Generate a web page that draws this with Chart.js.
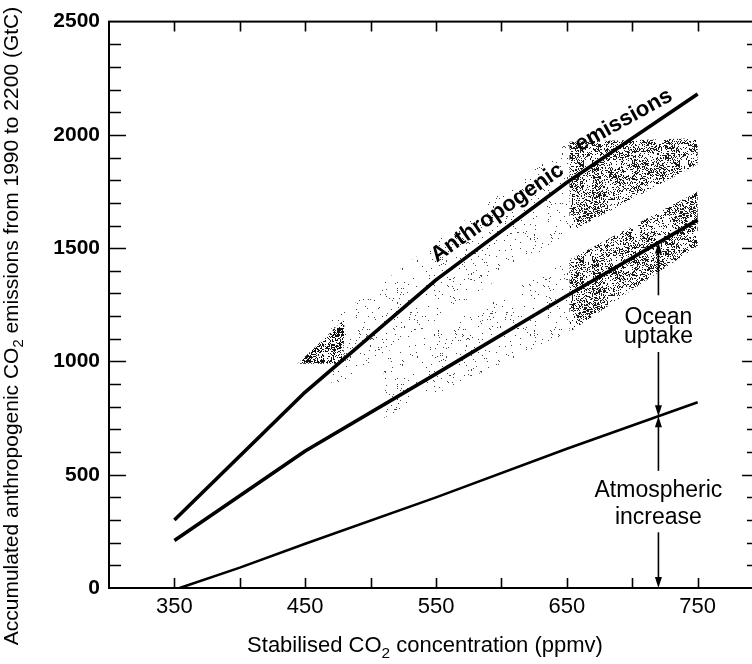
<!DOCTYPE html>
<html>
<head>
<meta charset="utf-8">
<script src="https://cdn.jsdelivr.net/npm/chart.js@4.4.1/dist/chart.umd.min.js"></script>
<style>
  html, body { margin: 0; background: #fff; }
  #wrap { width: 752px; height: 664px; position: relative; }
</style>
</head>
<body>
<div id="wrap"><canvas id="chart"></canvas></div>
<script>
// stabilisation levels (ppmv) and accumulated emissions 1990-2200 (GtC)
const co2Levels = [350, 450, 550, 650, 750];
const emissionsTotal = [300, 865, 1360, 1790, 2180];     // anthropogenic emissions
const atmosPlusOcean = [210, 605, 945, 1290, 1625];      // boundary between ocean uptake and the rest
const atmosX = [354, 400, 450, 550, 650, 750];
const atmosIncrease = [0, 90, 195, 400, 615, 820];      // atmospheric increase

// stippled uncertainty ranges (polygons, data units)
const topBandX = [652, 750, 750, 652];
const topBandY = [1970, 1985, 1870, 1570];
const midBandX = [652, 750, 750, 652];
const midBandY = [1450, 1750, 1510, 1130];
const wedgeX = [444, 480, 479];
const wedgeY = [990, 1186, 990];
const lightTopX = [470, 652, 652, 470];
const lightTopY = [1180, 1970, 1570, 880];
const lightMidX = [510, 652, 652, 510];
const lightMidY = [1010, 1450, 1130, 750];

// axes
const xLabels = [350, 450, 550, 650, 750];
const yLabels = [0, 500, 1000, 1500, 2000, 2500];
const xMarks = [350, 400, 450, 500, 550, 600, 650, 700, 750];
const yMarks = [100, 200, 300, 400, 500, 600, 700, 800, 900, 1000, 1100, 1200,
                1300, 1400, 1500, 1600, 1700, 1800, 1900, 2000, 2100, 2200, 2300, 2400];

const FONT = "'Liberation Sans', Arial, Helvetica, sans-serif";

function pts(xs, ys){ return xs.map((x, i) => ({ x, y: ys[i] })); }
function shape(xs, ys){ const p = pts(xs, ys); p.push({ ...p[0] }); return p; }
function lineAt(xs, ys, v){
  for (let i = 1; i < xs.length; i++){
    if (v <= xs[i]) return ys[i-1] + (ys[i] - ys[i-1]) * (v - xs[i-1]) / (xs[i] - xs[i-1]);
  }
  return ys[ys.length - 1];
}

// blotchy dotted texture for the shaded ranges (deterministic hash, not data)
function stipple(density, color){
  const n = 96;
  const c = document.createElement('canvas'); c.width = c.height = n;
  const g = c.getContext('2d'); g.fillStyle = color;
  const hash = (a, b) => { const s = Math.sin(a * 12.9898 + b * 78.233) * 43758.5453; return s - Math.floor(s); };
  for (let py = 0; py < n; py++){
    for (let px = 0; px < n; px++){
      const blob = 0.3 + 1.4 * hash(Math.floor(px / 8) + 0.5, Math.floor(py / 8) + 0.25);
      if (hash(px + 0.1, py + 0.7) < density * blob) g.fillRect(px, py, 1, 1);
    }
  }
  return g.createPattern(c, 'repeat');
}
const dense = stipple(0.32, '#1a1a1a');
const darker = stipple(0.45, '#111');
const light = stipple(0.03, '#444');

function band(xs, ys, bg){
  return { data: shape(xs, ys), borderColor: 'rgba(0,0,0,0)', borderWidth: 1,
           pointRadius: 0, fill: 'shape', backgroundColor: bg, tension: 0 };
}
function curve(xs, ys, w){
  return { data: pts(xs, ys), borderColor: '#000', borderWidth: w, pointRadius: 0,
           fill: false, tension: 0, borderCapStyle: 'butt', borderJoinStyle: 'round' };
}

// annotation anchors (data units)
const arrowX = 720;
const anthLabel = { x: 550.6, y: 1436, deg: -35 };
const emisLabel = { x: 659.8, y: 1926, deg: -29 };

function arrow(ctx, x, y0, y1){
  const dir = y1 > y0 ? 1 : -1;
  ctx.beginPath(); ctx.moveTo(x, y0); ctx.lineTo(x, y1 - dir * 8); ctx.stroke();
  ctx.beginPath(); ctx.moveTo(x, y1); ctx.lineTo(x - 3.5, y1 - dir * 11); ctx.lineTo(x + 3.5, y1 - dir * 11);
  ctx.closePath(); ctx.fill();
}
function rich(ctx, parts, x, y, size){
  // parts: [text, isSub]
  let w = 0;
  parts.forEach(([t, s]) => { ctx.font = (s ? size * 0.7 : size) + 'px ' + FONT; w += ctx.measureText(t).width; });
  let cx = x - w / 2;
  parts.forEach(([t, s]) => {
    ctx.font = (s ? size * 0.7 : size) + 'px ' + FONT;
    ctx.fillText(t, cx, s ? y + size * 0.25 : y);
    cx += ctx.measureText(t).width;
  });
}

const decor = {
  id: 'decor',
  afterDatasetsDraw(chart){
    const { ctx, chartArea: a, scales: { x, y } } = chart;
    const right = a.right + 7;   // right frame sits just past the cropped edge
    ctx.save();
    ctx.strokeStyle = '#000'; ctx.fillStyle = '#000';
    // frame
    ctx.lineWidth = 2;
    ctx.strokeRect(a.left, a.top, right - a.left, a.bottom - a.top);
    // inward ticks
    ctx.lineWidth = 1.6;
    ctx.beginPath();
    xMarks.forEach(v => {
      const px = Math.round(x.getPixelForValue(v)) + 0.5;
      ctx.moveTo(px, a.bottom); ctx.lineTo(px, a.bottom - 10);
      ctx.moveTo(px, a.top); ctx.lineTo(px, a.top + 10);
    });
    yMarks.forEach(v => {
      const py = Math.round(y.getPixelForValue(v)) + 0.5;
      const major = v % 500 === 0;
      ctx.moveTo(a.left, py); ctx.lineTo(a.left + (major ? 17 : 12), py);
      ctx.moveTo(right, py); ctx.lineTo(right - (major ? 15 : 10), py);
    });
    ctx.stroke();

    // arrows
    const ax = x.getPixelForValue(arrowX);
    const midY = lineAt(co2Levels, atmosPlusOcean, arrowX);
    const lowY = lineAt(atmosX, atmosIncrease, arrowX);
    ctx.lineWidth = 1.6;
    arrow(ctx, ax, y.getPixelForValue(1292), y.getPixelForValue(midY));
    arrow(ctx, ax, y.getPixelForValue(1042), y.getPixelForValue(lowY));
    arrow(ctx, ax, y.getPixelForValue(517), y.getPixelForValue(lowY));
    arrow(ctx, ax, y.getPixelForValue(246), y.getPixelForValue(0));

    // labels
    ctx.font = '23px ' + FONT; ctx.textAlign = 'center'; ctx.textBaseline = 'alphabetic';
    ctx.fillText('Ocean', ax, y.getPixelForValue(1166));
    ctx.fillText('uptake', ax, y.getPixelForValue(1081));
    ctx.fillText('Atmospheric', ax, y.getPixelForValue(400));
    ctx.fillText('increase', ax, y.getPixelForValue(283));

    ctx.font = 'bold 22px ' + FONT; ctx.textAlign = 'left';
    [[anthLabel, 'Anthropogenic'], [emisLabel, 'emissions']].forEach(([l, t]) => {
      ctx.save();
      ctx.translate(x.getPixelForValue(l.x), y.getPixelForValue(l.y));
      ctx.rotate(l.deg * Math.PI / 180);
      ctx.fillText(t, 0, 0);
      ctx.restore();
    });

    // axis titles
    ctx.textAlign = 'left';
    rich(ctx, [['Stabilised CO', 0], ['2', 1], [' concentration (ppmv)', 0]], 425, 652, 22);
    ctx.save();
    ctx.translate(18, 326); ctx.rotate(-Math.PI / 2);
    rich(ctx, [['Accumulated anthropogenic CO', 0], ['2', 1], [' emissions from 1990 to 2200 (GtC)', 0]], 0, 0, 21);
    ctx.restore();
    ctx.restore();
  }
};

new Chart(document.getElementById('chart'), {
  type: 'line',
  data: {
    datasets: [
      curve(co2Levels, emissionsTotal, 3.6),
      curve(co2Levels, atmosPlusOcean, 3.6),
      curve(atmosX, atmosIncrease, 2.6),
      band(topBandX, topBandY, dense),
      band(midBandX, midBandY, dense),
      band(wedgeX, wedgeY, darker),
      band(lightTopX, lightTopY, light),
      band(lightMidX, lightMidY, light)
    ]
  },
  options: {
    responsive: true, maintainAspectRatio: false, animation: false,
    layout: { padding: { top: 17, right: 2, left: 0, bottom: 0 } },
    plugins: { legend: { display: false }, tooltip: { enabled: false } },
    scales: {
      x: {
        type: 'linear', min: 300, max: 790,
        grid: { display: false, drawTicks: false }, border: { display: false },
        afterBuildTicks: s => { s.ticks = xLabels.map(v => ({ value: v })); },
        afterFit: s => { s.height = 76; },
        ticks: { padding: 6, color: '#000', autoSkip: false, maxRotation: 0,
                 font: { family: FONT, size: 22 }, callback: v => String(v) }
      },
      y: {
        min: 0, max: 2500,
        grid: { display: false, drawTicks: false }, border: { display: false },
        afterBuildTicks: s => { s.ticks = yLabels.map(v => ({ value: v })); },
        afterFit: s => { s.width = 109; },
        ticks: { padding: 9, color: '#000',
                 font: { family: FONT, size: 21, weight: 'bold' }, callback: v => String(v) }
      }
    }
  },
  plugins: [decor]
});
</script>
</body>
</html>
